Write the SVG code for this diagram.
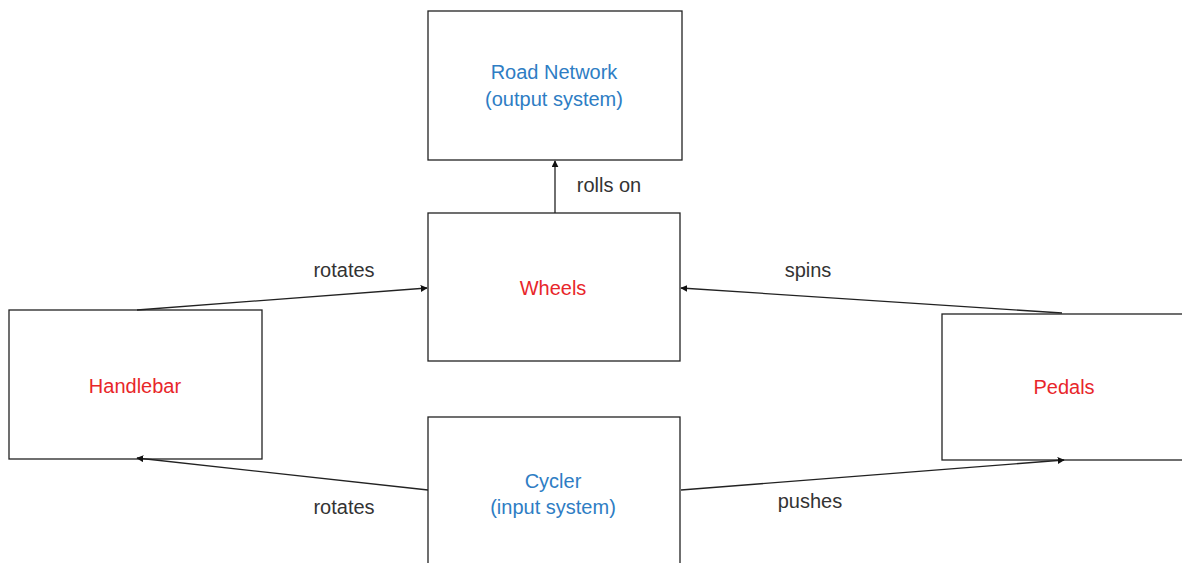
<svg xmlns="http://www.w3.org/2000/svg" width="1182" height="563" viewBox="0 0 1182 563">
<style>
.box{fill:#fff;stroke:#222;stroke-width:1.3}
.t{font-family:"Liberation Sans",Arial,sans-serif;font-size:20px;text-anchor:middle}
.blue{fill:#2e7dc4}
.red{fill:#e8262a}
.lbl{font-family:"Liberation Sans",Arial,sans-serif;font-size:20px;fill:#333;text-anchor:middle}
.c{fill:none;stroke:#222;stroke-width:1.3;marker-end:url(#ah)}
</style>
<defs>
<marker id="ah" viewBox="0 0 10 10" refX="9" refY="5" markerWidth="7" markerHeight="7" markerUnits="userSpaceOnUse" orient="auto">
<path d="M0,0 L10,5 L0,10 z" fill="#111"/>
</marker>
</defs>
<rect width="1182" height="563" fill="#fff"/>
<g id="road">
<rect class="box" x="428" y="11" width="254" height="149"/>
<text class="t blue" x="554" y="79">Road Network</text>
<text class="t blue" x="554" y="106">(output system)</text>
</g>
<g id="wheels">
<rect class="box" x="428" y="213" width="252" height="148"/>
<text class="t red" x="553" y="295">Wheels</text>
</g>
<g id="handlebar">
<rect class="box" x="9" y="310" width="253" height="149"/>
<text class="t red" x="135" y="393">Handlebar</text>
</g>
<g id="pedals">
<rect class="box" x="942" y="314" width="250" height="146"/>
<text class="t red" x="1064" y="394">Pedals</text>
</g>
<g id="cycler">
<rect class="box" x="428" y="417" width="252" height="156"/>
<text class="t blue" x="553" y="488">Cycler</text>
<text class="t blue" x="553" y="514">(input system)</text>
</g>
<g id="connectors">
<line class="c" x1="555" y1="213" x2="555" y2="161"/>
<line class="c" x1="137" y1="310" x2="427" y2="288"/>
<line class="c" x1="1062" y1="313" x2="681" y2="288"/>
<line class="c" x1="428" y1="490" x2="137" y2="458"/>
<line class="c" x1="681" y1="490" x2="1064" y2="460"/>
<text class="lbl" x="609" y="192">rolls on</text>
<text class="lbl" x="344" y="277">rotates</text>
<text class="lbl" x="808" y="277">spins</text>
<text class="lbl" x="344" y="514">rotates</text>
<text class="lbl" x="810" y="508">pushes</text>
</g>
</svg>
